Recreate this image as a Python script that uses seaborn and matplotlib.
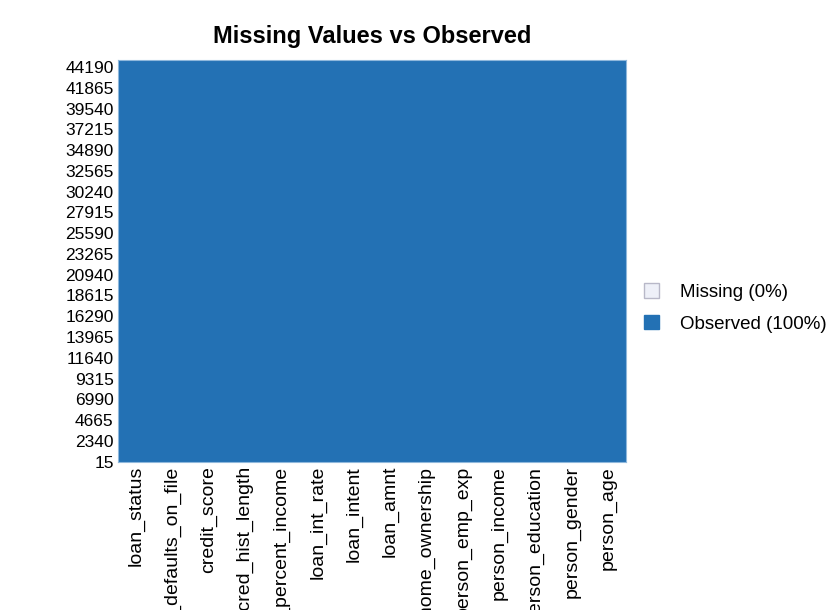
import numpy as np
import pandas as pd
import matplotlib
matplotlib.use("Agg")
import matplotlib.pyplot as plt
from matplotlib.patches import Patch
import seaborn as sns

# data: columns of the loan dataset, left to right as drawn
columns = ['loan_status', 'previous_loan_defaults_on_file', 'credit_score',
           'cb_person_cred_hist_length', 'loan_percent_income', 'loan_int_rate',
           'loan_intent', 'loan_amnt', 'person_home_ownership', 'person_emp_exp',
           'person_income', 'person_education', 'person_gender', 'person_age']
n_rows = 45000
missing_counts = [0, 0, 0, 0, 0, 0, 0, 0, 0, 0, 0, 0, 0, 0]
row_ticks = [15, 2340, 4665, 6990, 9315, 11640, 13965, 16290, 18615, 20940,
             23265, 25590, 27915, 30240, 32565, 34890, 37215, 39540, 41865, 44190]
legend_labels = ['Missing (0%)', 'Observed (100%)']

sns.set_style("white")
plt.rcParams['font.family'] = ['Liberation Sans', 'DejaVu Sans']
plt.rcParams['text.color'] = 'black'
plt.rcParams['xtick.color'] = 'black'
plt.rcParams['ytick.color'] = 'black'

# 1 = observed, 0 = missing
observed = np.ones((n_rows, len(columns)), dtype=np.int8)
for j, c in enumerate(missing_counts):
    observed[:c, j] = 0
df = pd.DataFrame(observed, columns=columns)

missing_col = '#eef0f8'
observed_col = '#2371b4'

fig = plt.figure(figsize=(8.36, 6.10), dpi=100)
ax = fig.add_axes([0.141, 0.243, 0.608, 0.659])
sns.heatmap(df, ax=ax, cmap=[missing_col, observed_col], vmin=0, vmax=1,
            cbar=False, xticklabels=True, yticklabels=False, rasterized=True)
ax.invert_yaxis()
ax.set_yticks([r + 0.5 for r in row_ticks])
ax.set_yticklabels([str(r) for r in row_ticks], fontsize=12.5, rotation=0)
ax.tick_params(axis='both', length=0, pad=3)
ax.set_xticklabels(columns, rotation=90, fontsize=14, va='top')
for s in ax.spines.values():
    s.set_visible(True)
    s.set_color('#8fb8dc')
    s.set_linewidth(0.8)

ax.set_title('Missing Values vs Observed', fontsize=17, fontweight='bold', pad=12)

handles = [Patch(facecolor=missing_col, edgecolor='#b8b8c8', label=legend_labels[0]),
           Patch(facecolor=observed_col, edgecolor=observed_col, label=legend_labels[1])]
fig.legend(handles=handles, loc='center left', bbox_to_anchor=(0.75, 0.495),
           frameon=False, prop={'size': 13.5},
           handlelength=0.8, handleheight=0.8, handletextpad=1.1, labelspacing=0.75)

fig.savefig('out.png', dpi=100)
